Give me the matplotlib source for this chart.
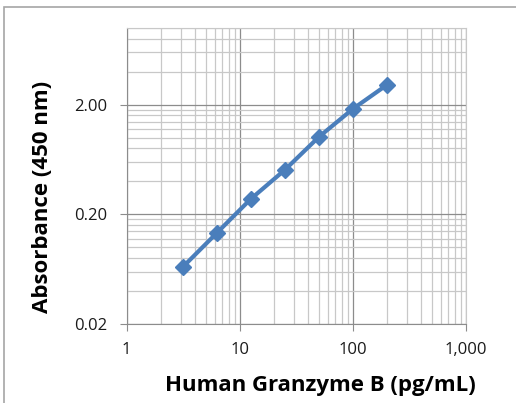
import matplotlib
matplotlib.use("Agg")
from matplotlib import pyplot as plt
from matplotlib.patches import Rectangle
from matplotlib.ticker import FixedLocator, NullFormatter

plt.rcParams['font.family'] = ['Open Sans', 'DejaVu Sans']

# standard curve
conc = [3.125, 6.25, 12.5, 25, 50, 100, 200]
absorbance = [0.066, 0.135, 0.276, 0.508, 1.015, 1.83, 3.03]

y_ticks = [0.02, 0.2, 2.0]
y_tick_labels = ["0.02", "0.20", "2.00"]
x_ticks = [1, 10, 100, 1000]
x_tick_labels = ["1", "10", "100", "1,000"]

fig = plt.figure(figsize=(5.16, 4.03), dpi=100)
# outer chart frame (cropped on right and bottom)
fig.patches.append(Rectangle((4 / 516, -0.1), 1.2, 1 - 7 / 403 + 0.1,
                             transform=fig.transFigure, fill=False,
                             edgecolor="#a6a6a6", linewidth=1.2))

ax = fig.add_axes([126.7 / 516, 1 - 324 / 403, 339.3 / 516, 296 / 403])
ax.set_xscale("log")
ax.set_yscale("log")
ax.set_xlim(1, 1000)
ax.set_ylim(0.02, 10)

ax.xaxis.set_major_locator(FixedLocator(x_ticks))
ax.set_xticklabels(x_tick_labels)
ax.xaxis.set_minor_locator(FixedLocator([10 ** d * k for d in range(3) for k in range(2, 10)]))
ax.xaxis.set_minor_formatter(NullFormatter())

ax.yaxis.set_major_locator(FixedLocator(y_ticks))
ax.set_yticklabels(y_tick_labels)
ax.yaxis.set_minor_locator(FixedLocator([0.02 * 10 ** d * k for d in range(3) for k in range(2, 10)
                                         if 0.02 * 10 ** d * k <= 10]))
ax.yaxis.set_minor_formatter(NullFormatter())

ax.grid(True, which="major", color="#8c8c8c", linewidth=0.9)
ax.grid(True, which="minor", color="#c8c8c8", linewidth=0.9)
ax.set_axisbelow(True)

for side in ["top", "right"]:
    ax.spines[side].set_color("#c8c8c8")
for side in ["left", "bottom"]:
    ax.spines[side].set_color("#8c8c8c")
ax.tick_params(which="major", direction="out", length=5, color="#8c8c8c",
               labelsize=12, labelcolor="#1a1a1a")
ax.tick_params(which="minor", length=0)
ax.tick_params(axis="x", pad=8)
ax.tick_params(axis="y", pad=9)

ax.plot(conc, absorbance, color="#4a7ebb", linewidth=3, marker="D",
        markersize=8, markeredgecolor="#4a7ebb", zorder=3, clip_on=False)

fig.text(320 / 516, 1 - 386 / 403, "Human Granzyme B (pg/mL)", ha="center", va="center",
         fontsize=16, fontweight="bold")
fig.text(43 / 516, 1 - 197 / 403, "Absorbance (450 nm)", ha="center", va="center",
         rotation=90, fontsize=16, fontweight="bold")

fig.savefig("out.png", dpi=100, facecolor="white")
plt.close(fig)
